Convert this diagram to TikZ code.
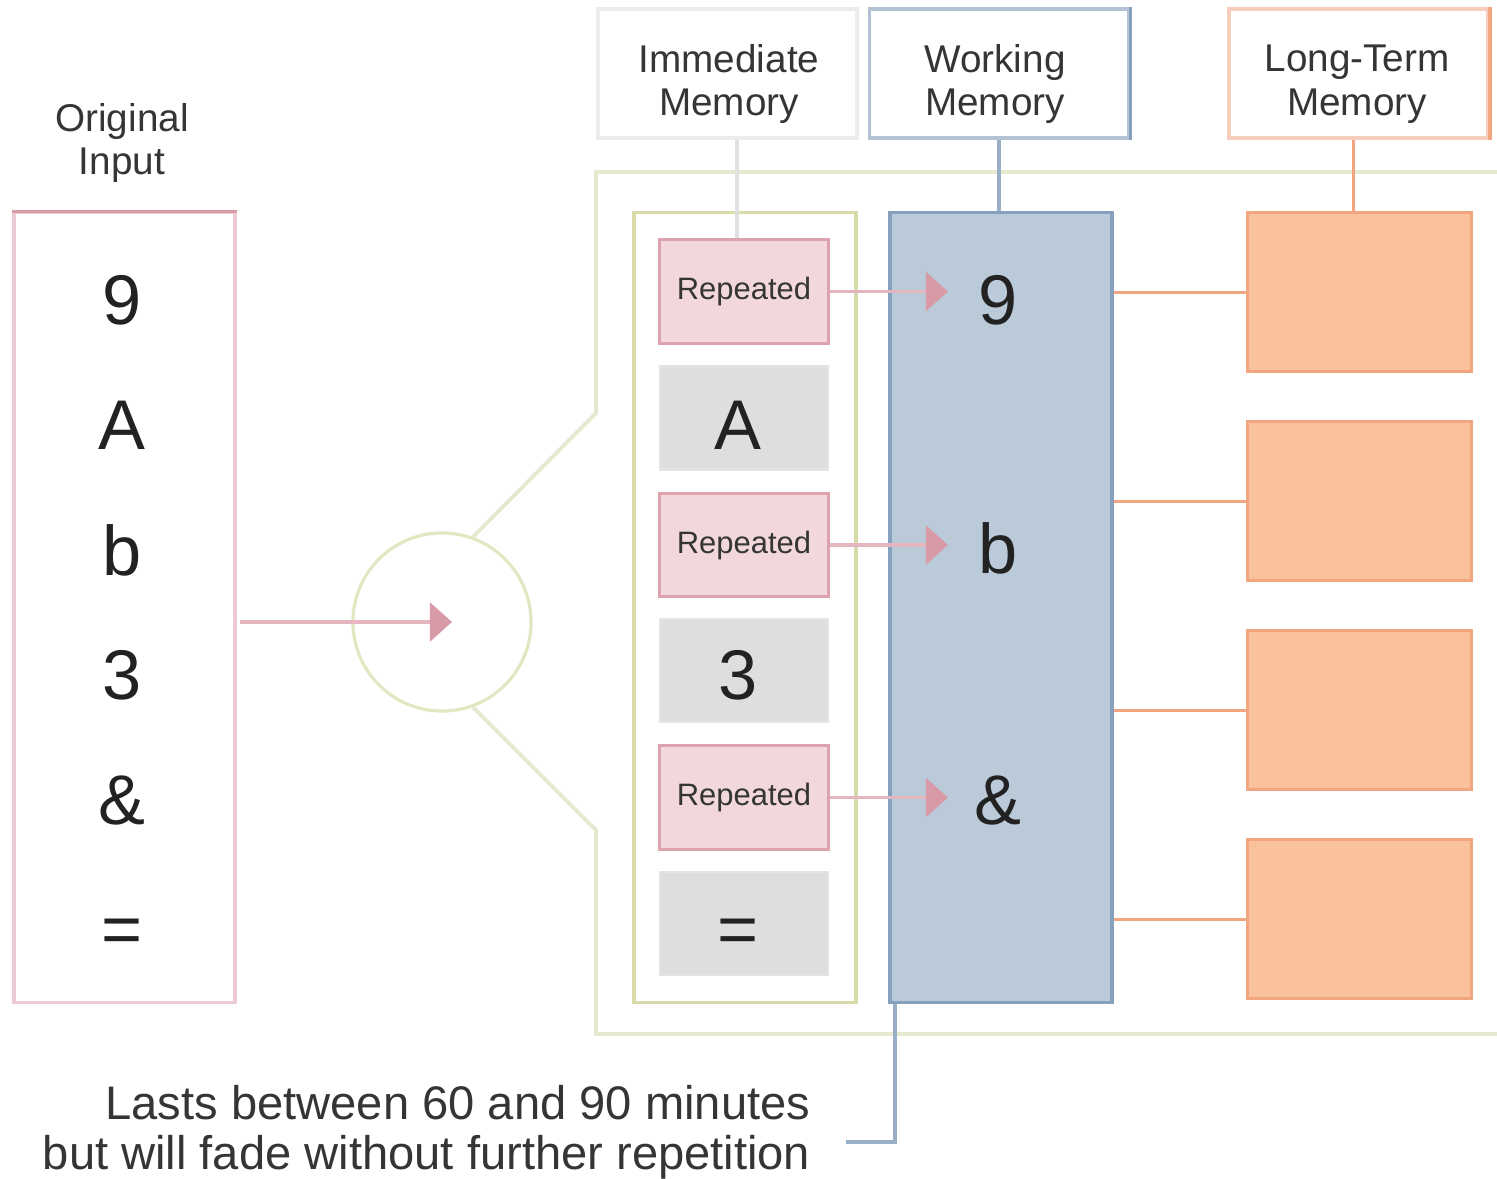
\documentclass[tikz,border=0pt]{standalone}
\usepackage{fontspec}
\setmainfont{Liberation Sans}
\usetikzlibrary{arrows.meta,calc}
\definecolor{txt}{HTML}{353535}
\definecolor{bigtxt}{HTML}{222222}
\definecolor{pinkline}{HTML}{EBCBD2}
\definecolor{pinkdark}{HTML}{D999A7}
\definecolor{arrline}{HTML}{E5B6C0}
\definecolor{arrhead}{HTML}{D99AA8}
\definecolor{repfill}{HTML}{F2D8DC}
\definecolor{repdraw}{HTML}{DDA2AE}
\definecolor{grayfill}{HTML}{DEDEDE}
\definecolor{graydraw}{HTML}{E4E4E4}
\definecolor{olive}{HTML}{D8DBA8}
\definecolor{olivelight}{HTML}{E6E8CF}
\definecolor{wmfill}{HTML}{BBCAD9}
\definecolor{wmdraw}{HTML}{86A1BD}
\definecolor{wmlight}{HTML}{B3C3D5}
\definecolor{ltmfill}{HTML}{F9C29C}
\definecolor{ltmdraw}{HTML}{F2A680}
\definecolor{ltmlight}{HTML}{F7CDBE}
\definecolor{hdrgray}{HTML}{ECECEC}
\definecolor{hdrgraydark}{HTML}{E0E0E0}
\tikzset{
  inboxst/.style={draw=pinkline, line width=0.9pt, minimum width=2.21cm, minimum height=7.89cm},
  repst/.style={draw=repdraw, fill=repfill, line width=0.85pt, minimum width=1.68cm, minimum height=1.03cm, font=\fontsize{8.8}{10}\selectfont, text=txt},
  grayst/.style={draw=graydraw, fill=grayfill, line width=0.6pt, minimum width=1.68cm, minimum height=1.03cm},
  wmst/.style={draw=wmdraw, fill=wmfill, line width=0.9pt, minimum width=2.22cm, minimum height=7.89cm},
  ltmst/.style={draw=ltmdraw, fill=ltmfill, line width=0.85pt, minimum width=2.23cm, minimum height=1.58cm},
  hdrst/.style={line width=1pt, minimum width=2.59cm, minimum height=1.29cm},
  hdrtext/.style={align=center, font=\fontsize{11}{12.5}\selectfont, text=txt},
  bigch/.style={font=\fontsize{20}{24}\selectfont, text=bigtxt},
  arr/.style={draw=arrline, line width=1.1pt, -{Triangle[length=6.3pt,width=11pt,color=arrhead]}},
  framest/.style={draw=olivelight, line width=1.1pt},
  ltmconn/.style={draw=ltmdraw, line width=0.85pt},
  wmconn/.style={draw=wmdraw!85!white, line width=0.9pt},
}
\begin{document}
\begin{tikzpicture}[x=0.01cm, y=-0.01cm]
\useasboundingbox (0,0) rectangle (1497,1178);

% outer frame and magnifier circle
\node[circle, draw=olive!70!white, line width=0.9pt, minimum size=1.78cm] (circ) at (442,622) {};
\coordinate (fa) at (1510,172);
\coordinate (fb) at (596,172);
\coordinate (fc) at (596,413);
\coordinate (fd) at (596,830);
\coordinate (fe) at (596,1034);
\coordinate (ff) at (1510,1034);
\draw[framest] (fa) -- (fb) -- (fc) -- (circ.70);
\draw[framest] (circ.-70) -- (fd) -- (fe) -- (ff);

% original input
\node[hdrtext] (oitext) at (122,143) {Original\\Input};
\node[inboxst] (inbox) at (124.5,607.5) {};
\draw[pinkdark, line width=0.9pt] (inbox.north west) -- (inbox.north east);
\node[bigch] (i1) at (122,300) {9};
\node[bigch] (i2) at (122,425) {A};
\node[bigch] (i3) at (122,550) {b};
\node[bigch] (i4) at (122,675) {3};
\node[bigch] (i5) at (122,800) {\&};
\node[bigch] (i6) at (122,936) {=};
\draw[arr] ([xshift=0.03cm]inbox.east |- circ.center) -- ([xshift=0.1cm]circ.center);

% immediate memory column
\node[draw=olive, line width=0.9pt, minimum width=2.22cm, minimum height=7.89cm] (imframe) at (745,607.5) {};
\node[repst] (r1) at (744,291.5) {Repeated};
\node[grayst] (g1) at (744,418) {};
\node[repst] (r2) at (744,545) {Repeated};
\node[grayst] (g2) at (744,670.5) {};
\node[repst] (r3) at (744,797.5) {Repeated};
\node[grayst] (g3) at (744,923.5) {};
\node[bigch] (g1t) at (738,425) {A};
\node[bigch] (g2t) at (738,675) {3};
\node[bigch] (g3t) at (738,936) {=};

% working memory
\node[wmst] (wm) at (1001,607.5) {};
\node[bigch] (w1) at (998,300) {9};
\node[bigch] (w2) at (998,548) {b};
\node[bigch] (w3) at (998,800) {\&};
\coordinate (wmx) at (948,0);
\draw[arr] (r1.east) -- (r1.east -| wmx);
\draw[arr] (r2.east) -- (r2.east -| wmx);
\draw[arr] (r3.east) -- (r3.east -| wmx);

% long-term memory
\node[ltmst] (l1) at (1359.5,292) {};
\node[ltmst] (l2) at (1359.5,501) {};
\node[ltmst] (l3) at (1359.5,710) {};
\node[ltmst] (l4) at (1359.5,919) {};
\draw[ltmconn] (l1.west -| wm.east) -- (l1.west);
\draw[ltmconn] (l2.west -| wm.east) -- (l2.west);
\draw[ltmconn] (l3.west -| wm.east) -- (l3.west);
\draw[ltmconn] (l4.west -| wm.east) -- (l4.west);

% headers
\node[hdrst, draw=hdrgray] (imh) at (727.5,73.5) {};
\node[hdrtext] (imht) at (729,84) {Immediate\\Memory};
\node[hdrst, draw=wmlight] (wmh) at (999,73.5) {};
\draw[wmdraw, line width=1pt] (wmh.north east) -- (wmh.south east);
\node[hdrtext] (wmht) at (995,84) {Working\\Memory};
\node[hdrst, draw=ltmlight] (ltmh) at (1358.5,73.5) {};
\draw[ltmdraw, line width=1pt] (ltmh.north east) -- (ltmh.south east);
\node[hdrtext] (ltmht) at (1357,84) {Long-Term\\Memory};

\coordinate (imx) at (737,0);
\coordinate (ltx) at (1353,0);
\draw[hdrgraydark, line width=1pt] (imh.south -| imx) -- (r1.north -| imx);
\draw[wmconn] (wmh.south) -- (wmh.south |- wm.north);
\draw[ltmconn] (ltmh.south -| ltx) -- (l1.north -| ltx);

% bottom note
\coordinate (b1) at (895,1142);
\coordinate (b2) at (846,1142);
\draw[wmconn] (wm.south -| b1) -- (b1) -- (b2);
\node[anchor=east, align=right, font=\fontsize{13.4}{14.2}\selectfont, text=txt, inner sep=0pt] (note) at (811,1132)
  {Lasts between 60 and 90 minutes\\but will fade without further repetition};
\end{tikzpicture}
\end{document}
